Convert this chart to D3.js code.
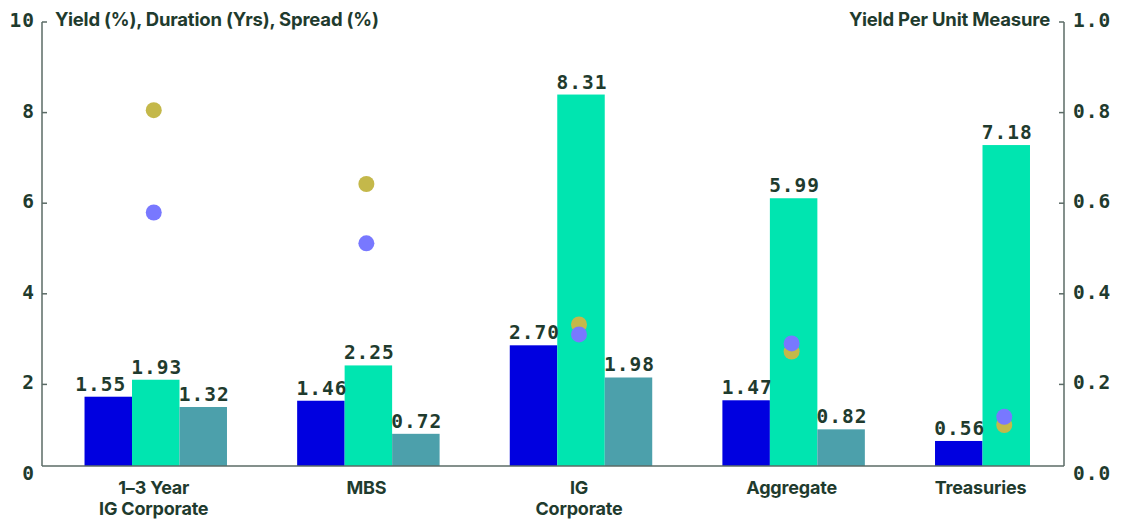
<!DOCTYPE html>
<html>
<head>
<meta charset="utf-8">
<script src="https://cdn.jsdelivr.net/npm/d3@7/dist/d3.min.js"></script>
<style>
  body { margin: 0; background: #fff; }
  .tick-label { font-family: "DejaVu Sans Mono", monospace; font-weight: 700; font-size: 19.5px; fill: #1f3b2e; letter-spacing: 1px; }
  .title { font-family: Inter, sans-serif; font-weight: 700; font-size: 18.5px; fill: #1f3b2e; letter-spacing: -0.2px; }
  .cat-label { font-family: Inter, sans-serif; font-weight: 700; font-size: 18px; fill: #1f3b2e; letter-spacing: -0.2px; }
</style>
</head>
<body>
<div id="chart"></div>
<script>
// data
var categories = ["1\u20133 Year|IG Corporate", "MBS", "IG|Corporate", "Aggregate", "Treasuries"];
var yieldVals = [1.55, 1.46, 2.70, 1.47, 0.56];
var durationVals = [1.93, 2.25, 8.31, 5.99, 7.18];
var spreadVals = [1.32, 0.72, 1.98, 0.82, null];
var yieldPerDuration = [0.801, 0.638, 0.328, 0.268, 0.106];
var yieldPerSpread = [0.575, 0.507, 0.306, 0.286, 0.124];
var leftTicks = [0, 2, 4, 6, 8, 10];
var rightTicks = [0.0, 0.2, 0.4, 0.6, 0.8, 1.0];

var seriesKeys = ["yield", "duration", "spread"];
var barColors = {"yield": "#0000e0", "duration": "#00e5b0", "spread": "#4ca0ab"};

function generateViz(){

  var width = 1129, height = 520;
  var axisColor = "#5b6b66";

  var svg = d3.select("#chart")
    .append("svg")
    .attr("width", width)
    .attr("height", height);

  var rows = categories.map(function(c, i){
    return {cat: c, yield: yieldVals[i], duration: durationVals[i], spread: spreadVals[i],
            ypd: yieldPerDuration[i], yps: yieldPerSpread[i]};
  });

  var xLeft = 42, xRight = 1064, baseY = 466;

  // group scale
  var x0 = d3.scaleBand()
    .domain(categories)
    .range([xLeft, 1120])
    .paddingInner(0.33)
    .paddingOuter(0.2);

  var x1 = d3.scaleBand()
    .domain(seriesKeys)
    .range([0, x0.bandwidth()]);

  // axis scales (tick positions) and bar scale
  var yAx = d3.scaleLinear().domain([0, 10]).range([473, 20]);
  var yBar = d3.scaleLinear().domain([0, 10]).range([baseY, 19]);
  var yR = d3.scaleLinear().domain([0, 1]).range([473, 20]);

  // bars
  var groups = svg.selectAll(".group")
    .data(rows)
    .enter()
    .append("g")
    .attr("class", "group")
    .attr("transform", function(d){ return "translate(" + x0(d.cat) + ",0)"; });

  var barData = function(d){
    return seriesKeys.filter(function(k){ return d[k] != null; })
      .map(function(k){ return {key: k, value: d[k], row: d}; });
  };

  groups.selectAll("rect")
    .data(barData)
    .enter()
    .append("rect")
    .attr("x", function(d){ return x1(d.key); })
    .attr("y", function(d){ return yBar(d.value); })
    .attr("width", x1.bandwidth())
    .attr("height", function(d){ return baseY - yBar(d.value); })
    .attr("fill", function(d){ return barColors[d.key]; });

  groups.selectAll(".bar-label")
    .data(barData)
    .enter()
    .append("text")
    .attr("class", "tick-label bar-label")
    .attr("x", function(d){ return x1(d.key) + x1.bandwidth() / 2 + 1; })
    .attr("y", function(d){ return yBar(d.value) - 6; })
    .attr("text-anchor", "middle")
    .text(function(d){ return d.value.toFixed(2); })
    .each(function(d){
      // push the yield label left when it would collide with the duration label
      if (d.key !== "yield") return;
      var gap = Math.abs(yBar(d.value) - yBar(d.row.duration));
      if (gap < 22) {
        var w = this.getComputedTextLength();
        var durLeft = x1("duration") + x1.bandwidth() / 2 - w / 2;
        d3.select(this).attr("x", durLeft - 4 - w / 2);
      }
    });

  // axes lines
  svg.append("line")
    .attr("x1", xLeft).attr("x2", xRight)
    .attr("y1", baseY).attr("y2", baseY)
    .attr("stroke", axisColor).attr("stroke-width", 1.5);

  svg.append("line")
    .attr("x1", xLeft).attr("x2", xLeft)
    .attr("y1", yAx(10) + 2).attr("y2", baseY)
    .attr("stroke", axisColor).attr("stroke-width", 1.5);

  svg.append("line")
    .attr("x1", xRight).attr("x2", xRight)
    .attr("y1", yR(1) + 2).attr("y2", baseY)
    .attr("stroke", axisColor).attr("stroke-width", 1.5);

  // left ticks
  svg.selectAll(".ltick")
    .data(leftTicks.filter(function(t){ return t > 0; }))
    .enter()
    .append("line")
    .attr("x1", xLeft).attr("x2", xLeft + 5)
    .attr("y1", function(d){ return yAx(d) + 2; })
    .attr("y2", function(d){ return yAx(d) + 2; })
    .attr("stroke", axisColor).attr("stroke-width", 1.5);

  svg.selectAll(".llabel")
    .data(leftTicks)
    .enter()
    .append("text")
    .attr("class", "tick-label")
    .attr("x", 35)
    .attr("y", function(d){ return yAx(d); })
    .attr("dy", "0.36em")
    .attr("text-anchor", "end")
    .text(function(d){ return d; });

  // right ticks
  svg.selectAll(".rtick")
    .data(rightTicks.filter(function(t){ return t > 0; }))
    .enter()
    .append("line")
    .attr("x1", xRight - 5).attr("x2", xRight)
    .attr("y1", function(d){ return yR(d) + 2; })
    .attr("y2", function(d){ return yR(d) + 2; })
    .attr("stroke", axisColor).attr("stroke-width", 1.5);

  svg.selectAll(".rlabel")
    .data(rightTicks)
    .enter()
    .append("text")
    .attr("class", "tick-label")
    .attr("x", 1073)
    .attr("y", function(d){ return yR(d); })
    .attr("dy", "0.36em")
    .attr("text-anchor", "start")
    .text(function(d){ return d.toFixed(1); });

  // axis titles
  svg.append("text")
    .attr("class", "title")
    .attr("x", 55).attr("y", 26)
    .text("Yield (%), Duration (Yrs), Spread (%)");

  svg.append("text")
    .attr("class", "title")
    .attr("x", 1050).attr("y", 26)
    .attr("text-anchor", "end")
    .text("Yield Per Unit Measure");

  // dots (right axis)
  var cx = function(d){ return x0(d.cat) + x0.bandwidth() / 2 - 2; };

  svg.selectAll(".dot-ypd")
    .data(rows)
    .enter()
    .append("circle")
    .attr("cx", cx)
    .attr("cy", function(d){ return yR(d.ypd); })
    .attr("r", 8)
    .attr("fill", "#c4b84a");

  svg.selectAll(".dot-yps")
    .data(rows)
    .enter()
    .append("circle")
    .attr("cx", cx)
    .attr("cy", function(d){ return yR(d.yps); })
    .attr("r", 8)
    .attr("fill", "#7878ff");

  // category labels, centred on the bars that have data
  svg.selectAll(".cat-label")
    .data(rows)
    .enter()
    .append("text")
    .attr("class", "cat-label")
    .attr("text-anchor", "middle")
    .attr("transform", function(d){
      var bars = barData(d);
      var xs = x0(d.cat) + x1(bars[0].key);
      var xe = x0(d.cat) + x1(bars[bars.length - 1].key) + x1.bandwidth();
      return "translate(" + ((xs + xe) / 2 - 2) + ",0)";
    })
    .each(function(d){
      var lines = d.cat.split("|");
      var t = d3.select(this);
      lines.forEach(function(l, i){
        t.append("tspan").attr("x", 0).attr("y", 494 + i * 21).text(l);
      });
    });
}

generateViz();
</script>
</body>
</html>
